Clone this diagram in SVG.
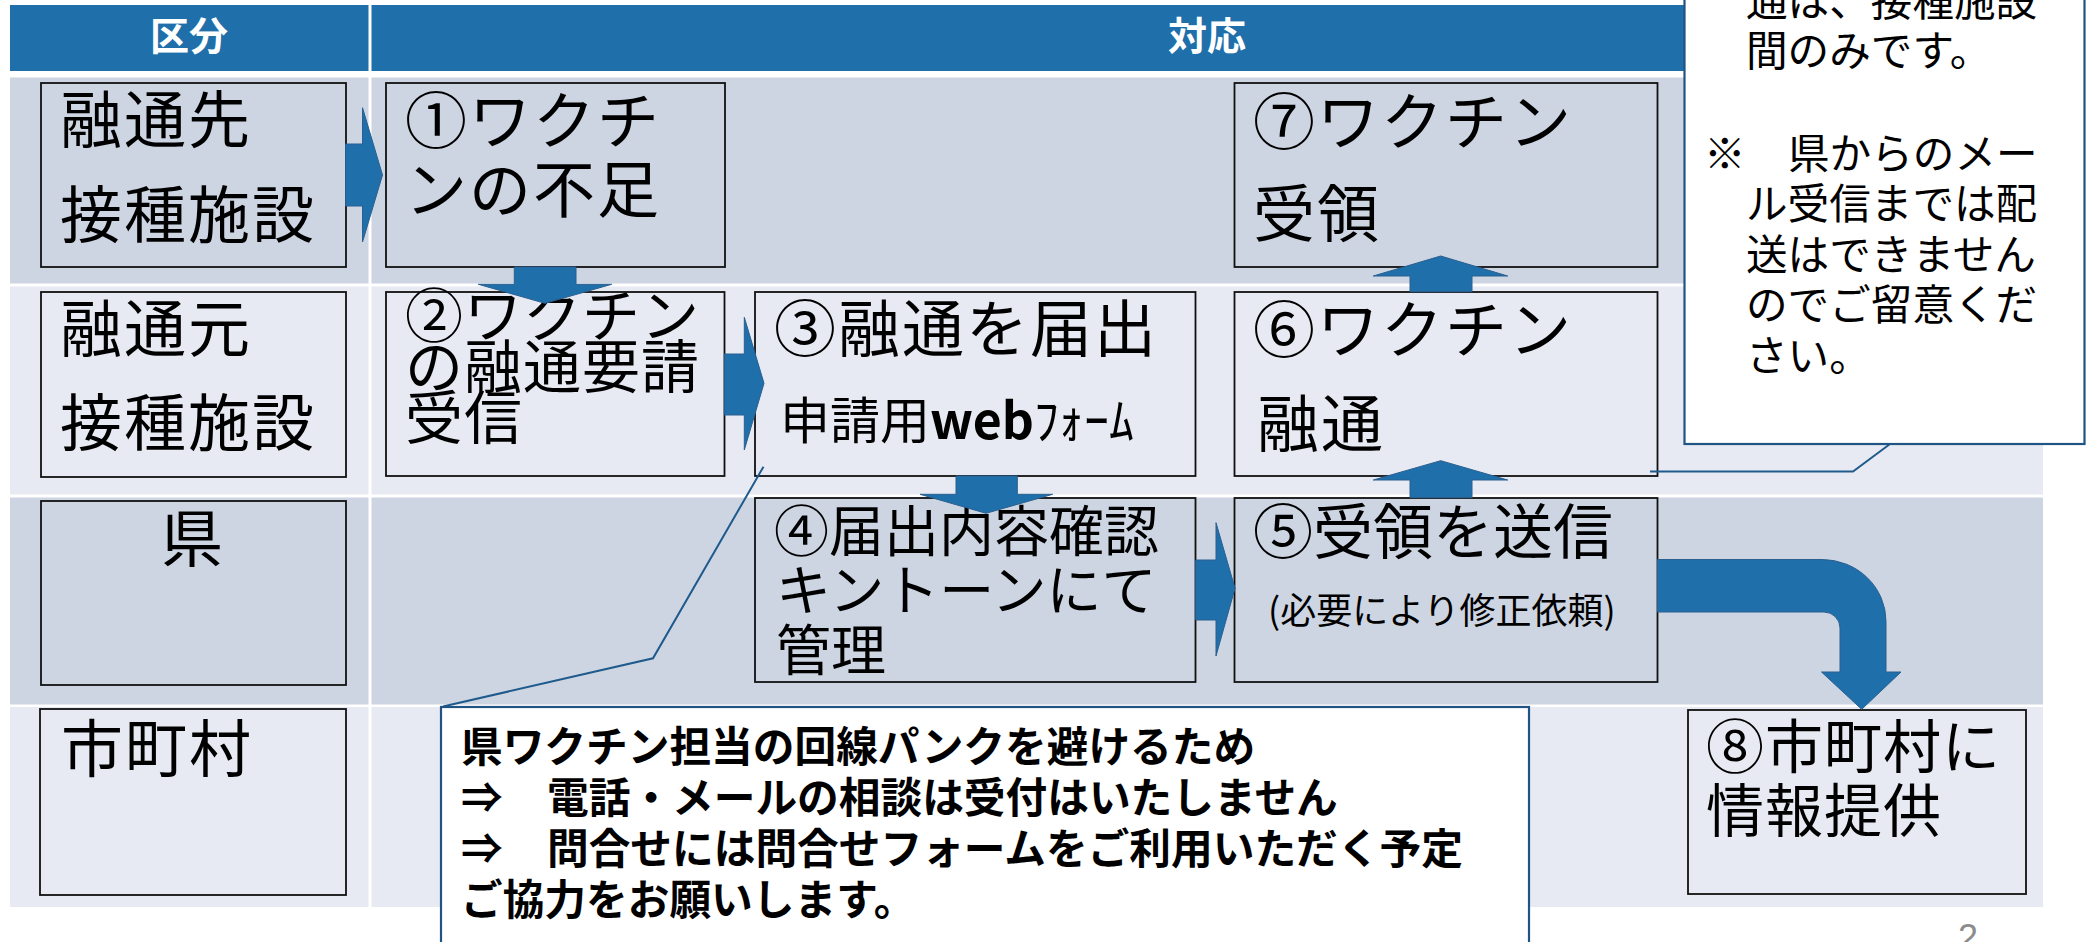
<svg xmlns="http://www.w3.org/2000/svg" width="2087" height="942" viewBox="0 0 2087 942">
<style>
.hdr{fill:#1f6fab}
.rowD{fill:#cdd5e2}
.rowL{fill:#e7eaf2}
.box{fill:none;stroke:#111;stroke-width:1.8}
.t{font-family:"Noto Sans CJK JP","Noto Sans",sans-serif;fill:#000}
.ht{font-family:"Noto Sans CJK JP","Noto Sans",sans-serif;fill:#fff;font-weight:bold;font-size:39px;text-anchor:middle}
.big{font-size:62px;letter-spacing:2px}
.mid{font-size:58px;letter-spacing:1px}
.arrow{fill:#1f6fab;stroke:#2a5f8f;stroke-width:1}
.callout{fill:#fff;stroke:#1f5485;stroke-width:2.2}
.lead{fill:none;stroke:#1f5a8c;stroke-width:2}
.note{font-size:41.6px}
.bnote{font-size:41.7px;font-weight:bold}
</style>
<rect x="0" y="0" width="2087" height="942" fill="#fff"/>
<g id="table">
  <rect class="hdr" x="10" y="5" width="358.5" height="66"/>
  <rect class="hdr" x="371.5" y="5" width="1671.5" height="66"/>
  <text class="ht" x="189" y="50">区分</text>
  <text class="ht" x="1207" y="50">対応</text>
  <rect class="rowD" x="10" y="77.5" width="358.5" height="206"/>
  <rect class="rowD" x="371.5" y="77.5" width="1671.5" height="206"/>
  <rect class="rowL" x="10" y="286.5" width="358.5" height="208"/>
  <rect class="rowL" x="371.5" y="286.5" width="1671.5" height="208"/>
  <rect class="rowD" x="10" y="497.5" width="358.5" height="207"/>
  <rect class="rowD" x="371.5" y="497.5" width="1671.5" height="207"/>
  <rect class="rowL" x="10" y="707" width="358.5" height="200"/>
  <rect class="rowL" x="371.5" y="707" width="1671.5" height="200"/>
</g>
<g id="lane-sakisaki">
  <rect class="box" x="41" y="83" width="305" height="184"/>
  <text class="t big" x="60" y="143">融通先</text>
  <text class="t big" x="60" y="238">接種施設</text>
</g>
<g id="lane-moto">
  <rect class="box" x="41" y="292" width="305" height="185"/>
  <text class="t big" x="60" y="352">融通元</text>
  <text class="t big" x="60" y="446">接種施設</text>
</g>
<g id="lane-ken">
  <rect class="box" x="41" y="501" width="305" height="184"/>
  <text class="t big" x="193" y="562" text-anchor="middle">県</text>
</g>
<g id="lane-shichoson">
  <rect class="box" x="40" y="709" width="306" height="186"/>
  <text class="t big" x="61" y="772" letter-spacing="-2">市町村</text>
</g>
<g id="step1">
  <rect class="box" x="386" y="83" width="339" height="184"/>
  <text class="t big" x="405" y="144">①ワクチ</text>
  <text class="t big" x="405" y="213">ンの不足</text>
</g>
<g id="step2">
  <rect class="box" x="386" y="292" width="338.5" height="184"/>
  <text class="t mid" x="405" y="337">②ワクチン</text>
  <text class="t mid" x="405" y="388">の融通要請</text>
  <text class="t mid" x="405" y="439">受信</text>
</g>
<g id="step3">
  <rect class="box" x="755" y="292" width="440.5" height="184"/>
  <text class="t big" x="774" y="352">③融通を届出</text>
  <text class="t" x="780" y="439" font-size="50">申請用<tspan font-weight="bold">web</tspan>ﾌｫｰﾑ</text>
</g>
<g id="step4">
  <rect class="box" x="755" y="498" width="440.5" height="184"/>
  <text class="t" x="774" y="551" font-size="55">④届出内容確認</text>
  <text class="t" x="776" y="610" font-size="55">キントーンにて</text>
  <text class="t" x="776" y="670" font-size="55">管理</text>
</g>
<g id="step5">
  <rect class="box" x="1234.5" y="498" width="423" height="184"/>
  <text class="t" x="1253" y="554" font-size="60">⑤受領を送信</text>
  <text class="t" x="1268" y="624" font-size="36">(必要により修正依頼)</text>
</g>
<g id="step6">
  <rect class="box" x="1234.5" y="292" width="423" height="184"/>
  <text class="t big" x="1253" y="353">⑥ワクチン</text>
  <text class="t big" x="1257" y="447">融通</text>
</g>
<g id="step7">
  <rect class="box" x="1234.5" y="83" width="423" height="184"/>
  <text class="t big" x="1253" y="145">⑦ワクチン</text>
  <text class="t big" x="1253" y="237">受領</text>
</g>
<g id="step8">
  <rect class="box" x="1688" y="710" width="338" height="184"/>
  <text class="t" x="1706" y="768" font-size="58" letter-spacing="1">⑧市町村に</text>
  <text class="t" x="1706" y="832" font-size="58" letter-spacing="1">情報提供</text>
</g>
<g id="connectors">
  <polygon class="arrow" points="345.6,144 362.5,144 362.5,107.7 382.5,175 362.5,242 362.5,206 345.6,206"/>
  <polygon class="arrow" points="514.3,267 576,267 576,284.3 611.7,284.3 545,303.3 478.3,284.3 514.3,284.3"/>
  <polygon class="arrow" points="724.3,354 744.3,354 744.3,317.3 764,383.3 744.3,450 744.3,415 724.3,415"/>
  <polygon class="arrow" points="956,476 1017.3,476 1017.3,494.3 1052.7,494.3 986,513.3 920,494.3 956,494.3"/>
  <polygon class="arrow" points="1195.7,560 1216,560 1216,522.7 1235,588.3 1216,656 1216,620 1195.7,620"/>
  <polygon class="arrow" points="1410,497.7 1472,497.7 1472,480 1507.7,480 1440.7,460.7 1373.3,480 1410,480"/>
  <polygon class="arrow" points="1410,291.7 1472,291.7 1472,276 1507.7,276 1440.7,256 1373.3,276 1410,276"/>
  <path class="arrow" d="M1657.5,559.5 L1822,559.5 A64,62 0 0 1 1886,621.5 L1886,672 L1901,672 L1861.7,709.3 L1821.5,672 L1840,672 L1840,628 A16,16 0 0 0 1824,612 L1657.5,612 Z"/>
  <polyline class="lead" points="1650,471.5 1853,471.5 1890,444"/>
  <polyline class="lead" points="763.5,466.7 653,658.3 443,706.5"/>
</g>
<g id="note-top">
  <rect class="callout" x="1684.5" y="-20" width="400" height="464"/>
  <text class="t note" x="1746" y="16">通は、接種施設</text>
  <text class="t note" x="1746" y="66">間のみです。</text>
  <text class="t note" x="1704" y="169">※<tspan x="1788">県からのメー</tspan></text>
  <text class="t note" x="1746" y="219">ル受信までは配</text>
  <text class="t note" x="1746" y="270">送はできません</text>
  <text class="t note" x="1746" y="320">のでご留意くだ</text>
  <text class="t note" x="1746" y="371">さい。</text>
</g>
<g id="note-bottom">
  <rect class="callout" x="441" y="707" width="1088" height="260"/>
  <text class="t bnote" x="461" y="762">県ワクチン担当の回線パンクを避けるため</text>
  <text class="t bnote" x="461" y="813">⇒<tspan x="547">電話・メールの相談は受付はいたしません</tspan></text>
  <text class="t bnote" x="461" y="864">⇒<tspan x="547">問合せには問合せフォームをご利用いただく予定</tspan></text>
  <text class="t bnote" x="461" y="915">ご協力をお願いします。</text>
</g>
<text x="1958" y="950" font-family="Liberation Sans, sans-serif" font-size="36" fill="#8c8c8c">2</text>
</svg>
